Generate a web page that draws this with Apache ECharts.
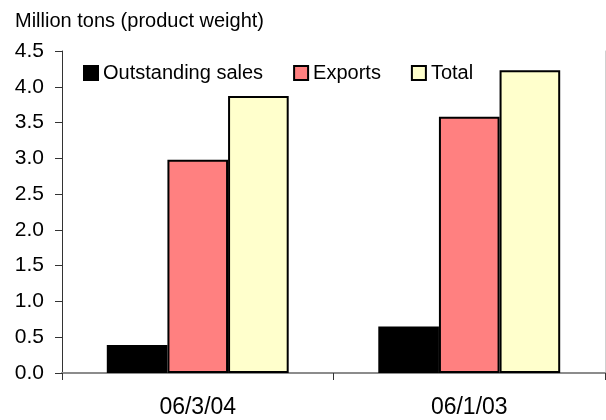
<!DOCTYPE html>
<html>
<head>
<meta charset="utf-8">
<script src="https://cdn.jsdelivr.net/npm/echarts@6/dist/echarts.min.js"></script>
<style>
  html, body { margin: 0; padding: 0; background: #fff; }
  #chart { width: 606px; height: 420px; }
</style>
</head>
<body>
<div id="chart"></div>
<script>
var categories = ['06/3/04', '06/1/03'];
var seriesNames = ['Outstanding sales', 'Exports', 'Total'];
var outstanding = [0.39, 0.65];
var exportsVals = [2.98, 3.58];
var totals = [3.87, 4.23];
var colors = ['#000000', '#FF8080', '#FFFFCC'];

var font = 'Liberation Sans, Arial, sans-serif';

var myChart = echarts.init(document.getElementById('chart'), null, { renderer: 'canvas' });

function makeBar(name, data, color) {
    return {
        name: name,
        type: 'bar',
        data: data,
        barGap: '0%',
        barCategoryGap: '33%',
        itemStyle: {
            color: color,
            borderColor: '#000',
            borderWidth: 2
        }
    };
}

var option = {
    animation: false,
    textStyle: { fontFamily: font },
    graphic: [{
        type: 'text',
        left: 15,
        top: 11,
        style: {
            text: 'Million tons (product weight)',
            font: '20px ' + font,
            fill: '#000'
        }
    }],
    legend: {
        left: 83,
        top: 63,
        padding: 0,
        itemWidth: 14,
        itemHeight: 14,
        itemGap: 30,
        icon: 'rect',
        textStyle: { fontSize: 20, lineHeight: 20, color: '#000', fontFamily: font },
        data: seriesNames.map(function (n, i) {
            return { name: n, itemStyle: { color: colors[i], borderColor: '#000', borderWidth: 2 } };
        })
    },
    grid: {
        left: 62,
        right: 1,
        top: 51,
        bottom: 47
    },
    xAxis: [{
        type: 'category',
        data: categories,
        axisLine: { lineStyle: { color: '#333', width: 1 } },
        axisTick: { show: true, length: 7, lineStyle: { color: '#333' } },
        axisLabel: { fontSize: 23, color: '#000', margin: 23, fontFamily: font }
    }, {
        type: 'category',
        position: 'top',
        data: categories,
        axisLine: { show: true, lineStyle: { color: '#8c8c8c', width: 2 } },
        axisTick: { show: false },
        axisLabel: { show: false }
    }],
    yAxis: [{
        type: 'value',
        min: 0,
        max: 4.5,
        interval: 0.5,
        axisLine: { show: true, lineStyle: { color: '#333', width: 1 } },
        axisTick: { show: true, length: 7, lineStyle: { color: '#333' } },
        splitLine: { show: false },
        axisLabel: {
            fontSize: 21,
            color: '#000',
            margin: 18,
            fontFamily: font,
            formatter: function (v) { return v.toFixed(1); }
        }
    }, {
        type: 'value',
        position: 'right',
        min: 0,
        max: 4.5,
        interval: 0.5,
        axisLine: { show: true, lineStyle: { color: '#d0d0d0', width: 1 } },
        axisTick: { show: false },
        axisLabel: { show: false },
        splitLine: { show: false }
    }],
    series: [
        makeBar(seriesNames[0], outstanding, colors[0]),
        makeBar(seriesNames[1], exportsVals, colors[1]),
        makeBar(seriesNames[2], totals, colors[2])
    ]
};
myChart.setOption(option);
</script>
</body>
</html>
